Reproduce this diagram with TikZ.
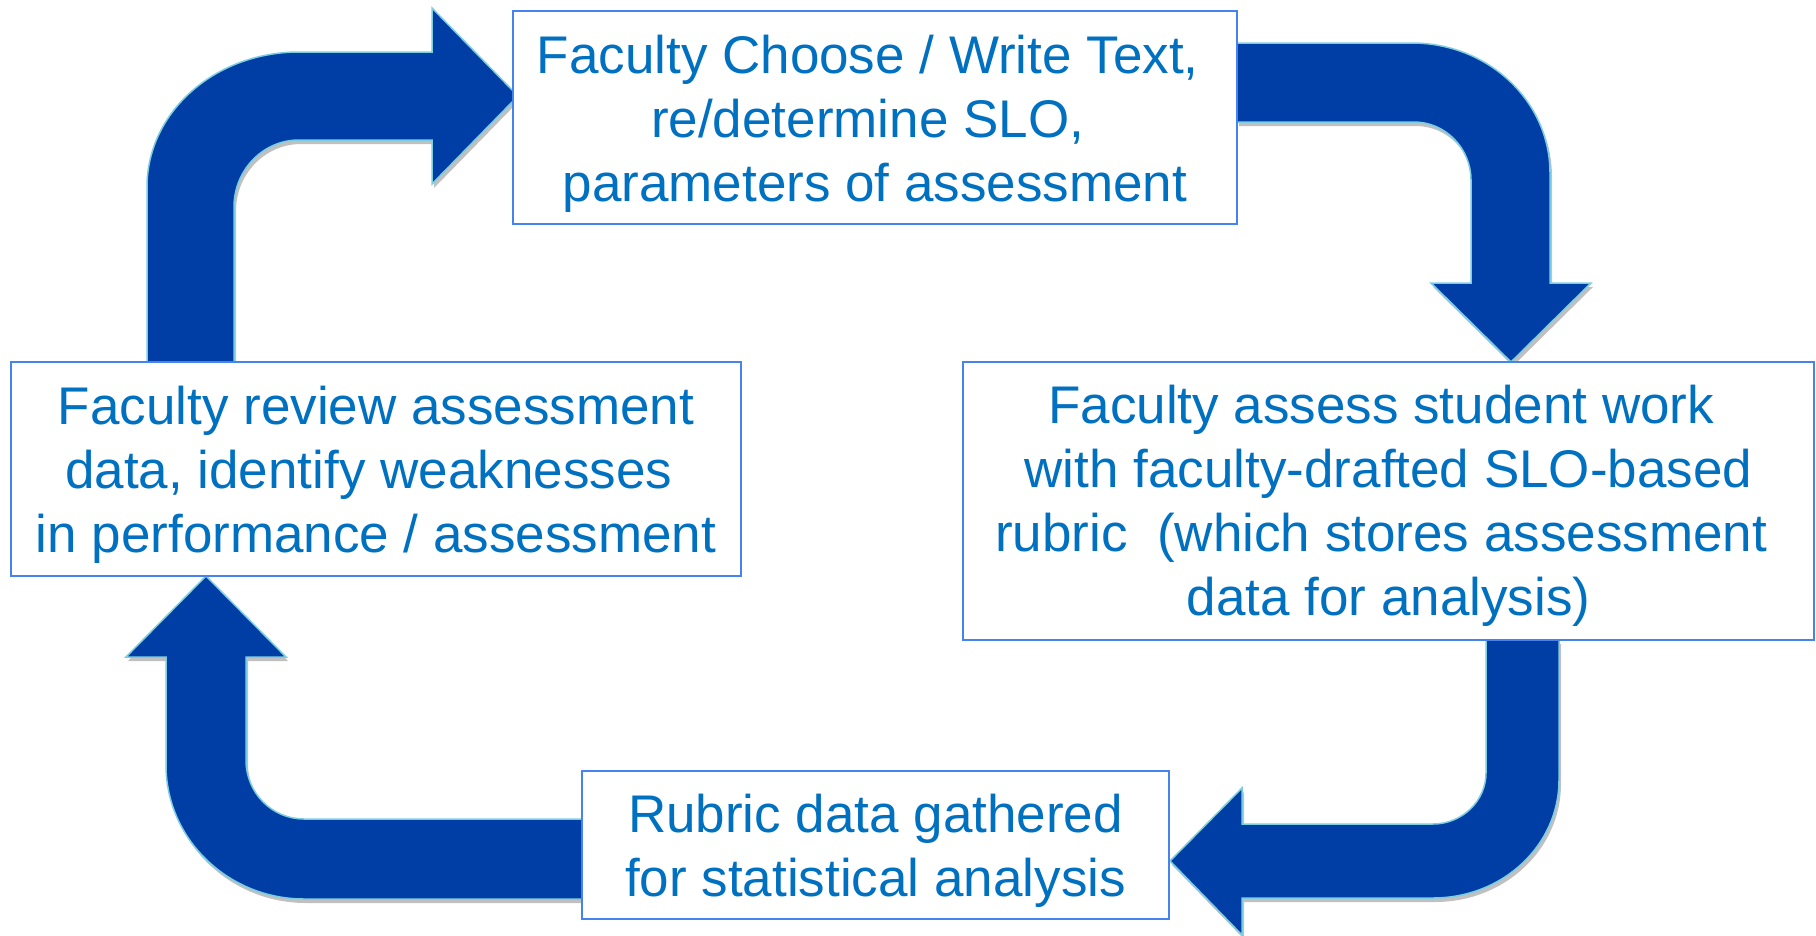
\documentclass[tikz,border=0pt]{standalone}
\usepackage{fontspec}
\setmainfont{Liberation Sans}
\usetikzlibrary{shadows}
\definecolor{txtblue}{RGB}{0,112,192}
\definecolor{boxblue}{RGB}{70,130,240}
\definecolor{arrfill}{RGB}{0,61,165}
\definecolor{arrline}{RGB}{125,205,225}
\begin{document}
\begin{tikzpicture}[x=1pt,y=-1pt,
  box/.style={draw=boxblue, line width=1.5pt, fill=white, inner sep=0pt},
  txt/.style={text=txtblue, inner sep=0pt, anchor=base, font=\fontsize{53}{64}\selectfont},
  bigarrow/.style={fill=arrfill, draw=arrline, line width=1.5pt, line join=miter,
    drop shadow={shadow xshift=2pt, shadow yshift=-4pt, opacity=0.35, fill=black!70}}]
\useasboundingbox (0,0) rectangle (1816,935);
\clip (0,0) rectangle (1816,935);
\fill[white] (0,0) rectangle (1816,935);
% block arrows
\path[bigarrow] (147,362) -- (147,187) .. controls (147,112) and (215,52) .. (299,52) -- (432,52) -- (432,8) -- (518,96) -- (432,184) -- (432,140) -- (299,140) .. controls (263,140) and (234,170) .. (234,207) -- (234,362) -- cycle;
\path[bigarrow] (1237,43) -- (1412,43) .. controls (1488,43) and (1550,101) .. (1550,173) -- (1550,283) -- (1591,283) -- (1511,362) -- (1431,283) -- (1471,283) -- (1471,180) .. controls (1471,148) and (1445,122) .. (1414,122) -- (1237,122) -- cycle;
\path[bigarrow] (1486,640) -- (1486,773) .. controls (1486,801) and (1462,824) .. (1433,824) -- (1242,824) -- (1242,788) -- (1170,861) -- (1242,935) -- (1242,898) -- (1433,898) .. controls (1503,898) and (1559,845) .. (1559,780) -- (1559,640) -- cycle;
\path[bigarrow] (582,819) -- (304,819) .. controls (272,819) and (246,793) .. (246,760) -- (246,657) -- (286,657) -- (206,576) -- (126,657) -- (166,657) -- (166,765) .. controls (166,839) and (228,899) .. (304,899) -- (582,899) -- cycle;
% boxes
\node[box, minimum width=724pt, minimum height=213pt] (b1) at (875,117.5) {};
\node[box, minimum width=730pt, minimum height=214pt] (bL) at (376,469) {};
\node[box, minimum width=851pt, minimum height=278pt] (bR) at (1388.5,501) {};
\node[box, minimum width=587pt, minimum height=148pt] (bB) at (875.5,845) {};
% texts
\node[txt] (t1) at (875,73) {\begin{tabular}[t]{@{}c@{}}Faculty Choose / Write Text,\ \mbox{}\\ re/determine SLO,\ \mbox{}\\ parameters of assessment\end{tabular}};
\node[txt] (tL) at (376,424) {\begin{tabular}[t]{@{}c@{}}Faculty review assessment\\ data, identify weaknesses\ \mbox{}\\ in performance / assessment\end{tabular}};
\node[txt] (tR) at (1388.5,423) {\begin{tabular}[t]{@{}c@{}}Faculty assess student work\ \mbox{}\\ with faculty-drafted SLO-based\\ rubric\ \ (which stores assessment\ \mbox{}\\ data for analysis)\end{tabular}};
\node[txt] (tB) at (875.5,832) {\begin{tabular}[t]{@{}c@{}}Rubric data gathered\\ for statistical analysis\end{tabular}};
\end{tikzpicture}
\end{document}
